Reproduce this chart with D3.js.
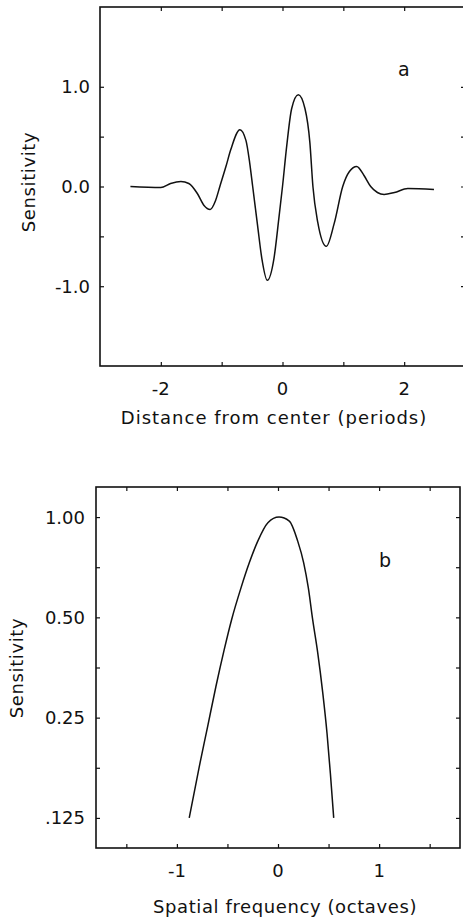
<!DOCTYPE html>
<html>
<head>
<meta charset="utf-8">
<script src="https://cdn.jsdelivr.net/npm/d3@7"></script>
<style>
  html, body { margin: 0; padding: 0; background: #fff; }
  svg { display: block; }
  text { font-family: "DejaVu Sans", sans-serif; fill: #111; }
  .frame { fill: none; stroke: #111; stroke-width: 1.6; }
  .tick line { stroke: #111; stroke-width: 1.2; }
  .domain { display: none; }
  .curve { fill: none; stroke: #111; stroke-width: 1.5; }
</style>
</head>
<body>
<div class="container"></div>
<script>
// DATA - panel a (receptive field profile)
const distanceA = [-2.50, -2.00, -1.84, -1.67, -1.54, -1.40, -1.29, -1.19, -1.10, -1.03,
                   -0.93, -0.85, -0.70, -0.60, -0.54, -0.49, -0.41, -0.34, -0.25, -0.14,
                   -0.06, 0.00, 0.07, 0.15, 0.26, 0.37, 0.45, 0.50, 0.58, 0.72,
                   0.85, 0.99, 1.10, 1.22, 1.34, 1.45, 1.56, 1.67, 1.84, 2.06, 2.49];
const sensitivityA = [0.00, -0.01, 0.03, 0.05, 0.03, -0.07, -0.19, -0.23, -0.14, 0.00,
                      0.20, 0.37, 0.57, 0.46, 0.24, 0.00, -0.39, -0.72, -0.94, -0.72,
                      -0.32, 0.00, 0.41, 0.78, 0.92, 0.78, 0.44, 0.00, -0.36, -0.60,
                      -0.37, 0.00, 0.15, 0.20, 0.11, 0.00, -0.06, -0.08, -0.06, -0.02, -0.03];
const xTicksA = [-2, -1, 0, 1, 2];
const xLabelsA = ["-2", "", "0", "", "2"];
const yTicksA = [1, 0.5, 0, -0.5, -1];
const yLabelsA = ["1.0", "", "0.0", "", "-1.0"];

// DATA - panel b (spatial frequency tuning)
const octavesB = [-0.878, -0.779, -0.696, -0.614, -0.532, -0.459, -0.366, -0.284, -0.20, -0.10,
                  0.01, 0.112, 0.195, 0.254, 0.30, 0.343, 0.393, 0.443, 0.485, 0.518, 0.551];
const sensitivityB = [0.125, 0.178, 0.235, 0.310, 0.400, 0.492, 0.613, 0.729, 0.847, 0.962,
                      1.0, 0.973, 0.847, 0.729, 0.613, 0.492, 0.391, 0.296, 0.224, 0.170, 0.125];
const xTicksB = [-1.5, -1, -0.5, 0, 0.5, 1, 1.5];
const xLabelsB = ["", "-1", "", "0", "", "1", ""];
const yTicksB = [1, Math.SQRT1_2, 0.5, 0.5 * Math.SQRT1_2, 0.25, 0.25 * Math.SQRT1_2, 0.125];
const yLabelsB = ["1.00", "", "0.50", "", "0.25", "", ".125"];


// create Canvas
const svg = d3.select('.container')
    .append('svg')
    .attr('width', 463)
    .attr('height', 922);


// draw one framed panel with inward ticks on all four sides
const drawPanel = (p) => {
    const [x0, x1] = p.x.range();
    const [y0, y1] = p.y.range();   // y0 bottom, y1 top

    const g = svg.append('g');

    // ticks, pointing inwards
    g.append('g')
        .attr('transform', `translate(0, ${y0})`)
        .call(d3.axisBottom(p.x).tickValues(p.xTicks).tickSizeInner(-4).tickSizeOuter(0).tickFormat(''));
    g.append('g')
        .attr('transform', `translate(0, ${y1})`)
        .call(d3.axisTop(p.x).tickValues(p.xTicks).tickSizeInner(-4).tickSizeOuter(0).tickFormat(''));
    g.append('g')
        .attr('transform', `translate(${x0}, 0)`)
        .call(d3.axisLeft(p.y).tickValues(p.yTicks).tickSizeInner(-4).tickSizeOuter(0).tickFormat(''));
    g.append('g')
        .attr('transform', `translate(${x1}, 0)`)
        .call(d3.axisRight(p.y).tickValues(p.yTicks).tickSizeInner(-4).tickSizeOuter(0).tickFormat(''));

    // frame
    g.append('rect')
        .attr('class', 'frame')
        .attr('x', x0)
        .attr('y', y1)
        .attr('width', x1 - x0)
        .attr('height', y0 - y1);

    // tick labels
    g.selectAll('.xlab')
        .data(p.xTicks)
        .enter()
        .append('text')
        .attr('x', d => p.x(d))
        .attr('y', p.xLabelY)
        .attr('text-anchor', 'middle')
        .style('font-size', '18px')
        .text((d, i) => p.xLabels[i]);

    g.selectAll('.ylab')
        .data(p.yTicks)
        .enter()
        .append('text')
        .attr('x', p.yLabelX)
        .attr('y', d => p.y(d))
        .attr('dy', '0.36em')
        .attr('text-anchor', 'end')
        .style('font-size', '18px')
        .text((d, i) => p.yLabels[i]);

    // axis titles
    g.append('text')
        .attr('transform', `translate(${p.yTitle[0]}, ${p.yTitle[1]}) rotate(-90)`)
        .attr('text-anchor', 'middle')
        .style('font-size', '18px')
        .style('letter-spacing', '0.6px')
        .text('Sensitivity');

    g.append('text')
        .attr('x', p.xTitle[0])
        .attr('y', p.xTitle[1])
        .attr('text-anchor', 'middle')
        .style('font-size', '18px')
        .style('letter-spacing', p.xTitleSpacing)
        .text(p.xTitleText);

    // panel letter
    g.append('text')
        .attr('x', p.letter[0])
        .attr('y', p.letter[1])
        .style('font-size', '19px')
        .text(p.letterText);

    // curve
    const line = d3.line()
        .x(d => p.x(d[0]))
        .y(d => p.y(d[1]))
        .curve(d3.curveMonotoneX);

    g.append('path')
        .datum(d3.zip(p.xs, p.ys))
        .attr('class', 'curve')
        .attr('d', line);
};


// Panel a
const xScaleA = d3.scaleLinear().domain([-3, 3]).range([100, 465]);
const yScaleA = d3.scaleLinear().domain([-1.8, 1.8]).range([366, 7]);

drawPanel({
    x: xScaleA, y: yScaleA,
    xTicks: xTicksA, xLabels: xLabelsA,
    yTicks: yTicksA, yLabels: yLabelsA,
    xLabelY: 395, yLabelX: 90,
    yTitle: [35, 182],
    xTitle: [274, 424], xTitleText: 'Distance from center (periods)', xTitleSpacing: '1px',
    letter: [398, 76], letterText: 'a',
    xs: distanceA, ys: sensitivityA
});


// Panel b (log2 sensitivity axis)
const xScaleB = d3.scaleLinear().domain([-1.8, 1.8]).range([96, 460]);
const yScaleB = d3.scaleLog().base(2).domain([Math.pow(2, -3.3), Math.pow(2, 0.3)]).range([848, 487]);

drawPanel({
    x: xScaleB, y: yScaleB,
    xTicks: xTicksB, xLabels: xLabelsB,
    yTicks: yTicksB, yLabels: yLabelsB,
    xLabelY: 877, yLabelX: 85,
    yTitle: [23, 668],
    xTitle: [285, 913], xTitleText: 'Spatial  frequency (octaves)', xTitleSpacing: '0.6px',
    letter: [379, 567], letterText: 'b',
    xs: octavesB, ys: sensitivityB
});
</script>
</body>
</html>
